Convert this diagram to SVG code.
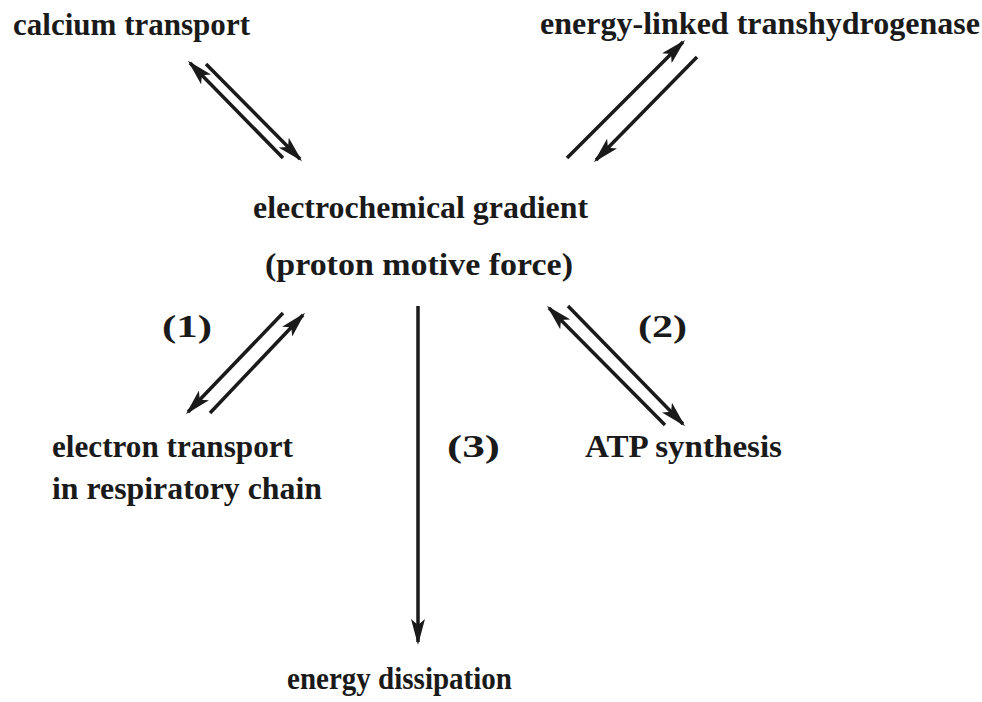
<svg xmlns="http://www.w3.org/2000/svg" width="982" height="702" viewBox="0 0 982 702">
<style>
text{font-family:"Liberation Serif","Times New Roman",serif;font-weight:bold;font-size:31px;fill:#1a1a1a}
.c line{stroke:#1a1a1a;stroke-width:3.5;fill:none;marker-end:url(#ah)}
</style>
<defs>
<marker id="ah" markerUnits="userSpaceOnUse" markerWidth="28" markerHeight="14" refX="23" refY="7" orient="auto">
<path d="M0,0 L26,7 L0,14 L6,7 z" fill="#1a1a1a"/>
</marker>
</defs>
<rect width="982" height="702" fill="#ffffff"/>
<g id="calcium"><text x="13" y="35" textLength="237" lengthAdjust="spacingAndGlyphs">calcium transport</text></g>
<g id="transhydrogenase"><text x="540" y="34" textLength="440" lengthAdjust="spacingAndGlyphs">energy-linked transhydrogenase</text></g>
<g id="gradient">
<text x="253" y="218" textLength="335" lengthAdjust="spacingAndGlyphs">electrochemical  gradient</text>
<text x="265" y="275" textLength="308" lengthAdjust="spacingAndGlyphs">(proton motive force)</text>
</g>
<g id="electron">
<text x="52" y="457" textLength="241" lengthAdjust="spacingAndGlyphs">electron transport</text>
<text x="52" y="499" textLength="270" lengthAdjust="spacingAndGlyphs">in respiratory chain</text>
</g>
<g id="atp"><text x="585" y="457" textLength="197" lengthAdjust="spacingAndGlyphs">ATP  synthesis</text></g>
<g id="dissipation"><text x="287" y="689" textLength="225" lengthAdjust="spacingAndGlyphs">energy  dissipation</text></g>
<g id="labels">
<text x="162" y="337" textLength="50" lengthAdjust="spacingAndGlyphs">(1)</text>
<text x="638" y="337" textLength="49" lengthAdjust="spacingAndGlyphs">(2)</text>
<text x="447" y="457" textLength="53" lengthAdjust="spacingAndGlyphs">(3)</text>
</g>
<g id="connectors" class="c">
<line x1="283" y1="158" x2="190" y2="63"/>
<line x1="206" y1="64" x2="300" y2="159"/>
<line x1="567" y1="158" x2="683" y2="42"/>
<line x1="697" y1="57" x2="596" y2="160"/>
<line x1="283" y1="313" x2="188" y2="412"/>
<line x1="210" y1="413" x2="303" y2="315"/>
<line x1="665" y1="425" x2="549" y2="308"/>
<line x1="568" y1="306" x2="683" y2="424"/>
<line x1="418" y1="306" x2="418" y2="642"/>
</g>
</svg>
